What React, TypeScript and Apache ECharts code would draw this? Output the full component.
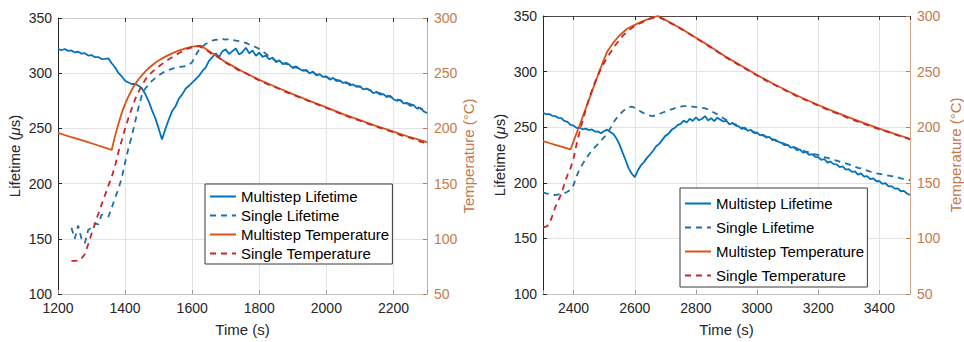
import React, { useEffect, useRef } from 'react';
import * as echarts from 'echarts';

const FONT = "'Liberation Sans', Arial, Helvetica, sans-serif";
const C_BLUE = '#0072BD';
const C_BLUE_D = '#1F6FA6';
const C_ORANGE = '#D95319';
const C_RED = '#C8252C';
const C_AXIS = '#262626';
const C_RIGHT = '#C47A4C';
const C_RIGHT_LINE = '#D8AA8C';
const C_GRID = '#E4E4E4';

const seriesNames = ['Multistep Lifetime', 'Single Lifetime', 'Multistep Temperature', 'Single Temperature'];
const xName = 'Time (s)';
const leftYName = '{n|Lifetime (}{i|μ}{n|s)}';
const rightYName = 'Temperature (°C)';

// ---------- Left panel ----------
const leftTimeRange = [1200, 2300];
const leftLifeStep = 10;
const leftMultiLifeStart = 1200;
const leftMultiLife = [
  322.0, 320.8, 321.9, 320.2, 320.6, 318.8, 319.6, 317.7, 318.1, 316.0,
  316.4, 314.5, 314.6, 312.8, 313.0, 313.5, 309.0, 305.4, 300.2, 297.2,
  293.2, 291.6, 290.2, 290.3, 288.7, 286.3, 281.2, 274.8, 266.6, 259.4,
  250.0, 240.0, 249.5, 257.8, 265.6, 269.8, 276.8, 280.6, 285.8, 288.6,
  291.5, 294.5, 297.5, 301.8, 305.0, 311.2, 314.5, 318.0, 314.6, 319.8,
  321.6, 317.4, 320.0, 322.4, 316.8, 319.2, 323.0, 318.0, 320.6, 315.8,
  318.6, 314.8, 316.0, 312.6, 314.2, 310.0, 311.6, 308.2, 309.4, 307.6,
  304.6, 306.2, 303.8, 302.2, 303.0, 299.8, 301.4, 298.0, 299.2, 296.6,
  297.2, 294.2, 295.8, 292.8, 293.4, 291.2, 292.0, 289.0, 289.8, 287.6,
  288.2, 285.4, 286.0, 284.6, 282.0, 283.2, 280.6, 281.0, 278.4, 279.6,
  276.4, 275.0, 275.8, 272.6, 273.0, 270.4, 271.2, 267.8, 268.6, 265.4,
  264.0,
];
const leftSingleLifeStart = 1240;
const leftSingleLife = [
  160, 150, 162, 150, 146, 158, 160, 164, 163, 172,
  171, 170, 178, 187, 195, 205, 219, 232, 243, 256,
  269, 280, 286, 289.5, 293, 295.5, 298, 300, 302, 303,
  304, 305, 305.5, 306, 306.5, 307.5, 310, 316, 321, 324,
  326.5, 328, 329.5, 330.5, 330, 331, 330.5, 331, 330, 329.5,
  329, 328, 327.5, 326, 325, 323.5, 322, 320, 317.5, 315,
  313, 311, 310.5, 309, 308.5, 307, 306, 305, 304.5, 303,
  302, 301, 300.5, 299, 298.5, 297.5, 296.5, 295.5, 295, 294,
  293, 292, 291, 290.5, 289.5, 288.5, 287.5, 286.5, 286, 284.5,
  284, 282.5, 282, 280.5, 280, 278.5, 277.5, 276.5, 275.5, 274,
  273, 272, 270.5, 269.5, 268, 267, 265.5,
];
const leftMultiTemp = [
  [1200, 196], [1240, 192], [1280, 188.5], [1320, 184.5], [1360, 180.5], [1370, 193], [1380, 204],
  [1390, 214], [1400, 222], [1410, 229], [1420, 235], [1430, 240], [1440, 244.5], [1450, 248],
  [1460, 251.5], [1470, 254.5], [1480, 257], [1490, 259.5], [1500, 261.5], [1520, 265], [1540, 268],
  [1560, 270.5], [1580, 272.5], [1600, 274], [1625, 275], [1650, 270], [1700, 260], [1750, 251.5],
  [1800, 244], [1850, 237.5], [1900, 231], [1950, 225], [2000, 219], [2050, 213], [2100, 207.5],
  [2150, 202], [2200, 197], [2250, 192], [2300, 187.5],
];
const leftSingleTemp = [
  [1240, 80], [1250, 80], [1265, 80.5], [1280, 86], [1290, 95], [1300, 104.5], [1310, 113.5],
  [1320, 122.5], [1330, 131], [1340, 139.5], [1350, 148], [1360, 156], [1370, 166], [1380, 178.5],
  [1390, 189], [1400, 200], [1410, 209.5], [1420, 218], [1430, 226.5], [1440, 233], [1450, 239],
  [1460, 244], [1470, 248], [1480, 251], [1500, 256], [1520, 260.5], [1540, 264.5], [1560, 268],
  [1580, 271.5], [1600, 273.5], [1620, 274.5], [1640, 271.5], [1660, 267], [1680, 264], [1700, 259.5],
  [1720, 256], [1740, 252.5], [1760, 250], [1780, 246.5], [1800, 243.5], [1825, 240], [1850, 237],
  [1875, 233.5], [1900, 230.5], [1925, 227.5], [1950, 224.5], [1975, 221.5], [2000, 218.5],
  [2025, 215.5], [2050, 212.5], [2075, 209.5], [2100, 207], [2125, 204], [2150, 201.5], [2175, 199],
  [2200, 196.5], [2225, 193.5], [2250, 191.5], [2275, 188.5], [2300, 186.5],
];

// ---------- Right panel ----------
const rightTimeRange = [2300, 3500];
const rightLifeStep = 10;
const rightLifeStart = 2300;
const rightMultiLife = [
  263.0, 261.6, 261.9, 260.2, 260.0, 258.4, 258.2, 255.6, 254.8, 252.0,
  251.4, 249.3, 249.5, 248.1, 248.7, 247.4, 248.0, 246.1, 246.0, 244.6,
  246.6, 247.8, 245.6, 243.9, 240.0, 234.5, 227.4, 220.5, 213.0, 208.4,
  205.0, 211.0, 215.6, 218.6, 222.4, 225.4, 228.8, 232.8, 235.0, 238.6,
  242.2, 244.0, 247.6, 249.2, 251.8, 253.0, 256.0, 254.2, 257.6, 255.6,
  258.8, 256.2, 257.6, 260.0, 256.0, 258.2, 255.4, 258.6, 256.8, 255.2,
  255.6, 252.6, 253.8, 251.4, 250.8, 248.4, 249.6, 246.8, 247.6, 245.0,
  245.2, 242.6, 243.4, 240.6, 241.2, 238.4, 238.8, 236.8, 236.0, 233.8,
  234.2, 231.6, 232.0, 229.4, 230.0, 227.2, 227.8, 225.2, 225.8, 223.4,
  223.0, 220.6, 221.4, 218.2, 219.0, 216.8, 216.6, 214.2, 214.8, 211.8,
  212.2, 209.8, 210.2, 207.4, 208.4, 205.6, 206.0, 203.2, 204.0, 201.4,
  201.4, 199.0, 199.6, 196.8, 197.0, 194.8, 195.0, 192.4, 192.8, 190.4,
  189.0,
];
const rightSingleLife = [
  191.5, 190.5, 190, 189.5, 189, 189.5, 190, 190.5, 192, 194,
  198, 206, 212.5, 217, 221.5, 225.5, 229, 232, 235, 238,
  241, 244, 249, 254, 258, 261, 264, 266.5, 268, 268.5,
  267.5, 266, 264, 262.5, 261, 260.5, 260, 261, 262, 263,
  264, 265, 266, 267, 268, 268.5, 269, 269, 268.5, 268.5,
  268, 268, 267.5, 267, 266, 264.5, 263, 261.5, 260, 258,
  256.5, 255, 253.5, 252.5, 251, 250, 248.5, 247.5, 246.5, 245.5,
  244.5, 243.5, 242.5, 241.5, 240.5, 239.5, 238, 237, 236, 235,
  234, 233, 232, 231, 230, 229, 228, 227.5, 226.5, 225.5,
  225, 224, 223, 222.5, 221.5, 220.5, 220, 219, 218, 217.5,
  216.5, 215.5, 214.5, 213.5, 213, 212, 211, 210, 209.5, 208.5,
  208, 207.5, 207, 206.5, 206, 205.5, 205, 204, 203.5, 203,
  202.5,
];
const rightMultiTemp = [
  [2300, 187.5], [2320, 185.8], [2340, 184.2], [2360, 182.5], [2390, 180], [2400, 187.5], [2420, 202],
  [2440, 217], [2460, 232], [2480, 247], [2495, 258], [2510, 268], [2530, 276], [2550, 282.5],
  [2575, 288.5], [2600, 292], [2625, 295.2], [2650, 298], [2676, 300], [2700, 296.5], [2750, 289],
  [2800, 280.5], [2850, 272], [2900, 263], [2950, 255], [3000, 247], [3050, 239.5], [3100, 232.5],
  [3150, 226], [3200, 220], [3250, 214.3], [3300, 208.8], [3350, 203.7], [3400, 198.7], [3450, 194],
  [3500, 189.6],
];
const rightSingleTemp = [
  [2300, 110], [2310, 110.5], [2320, 112.5], [2330, 120], [2340, 128], [2350, 134], [2360, 140],
  [2370, 149], [2380, 157], [2390, 163], [2400, 172], [2410, 185], [2420, 196], [2430, 206],
  [2440, 216], [2450, 225], [2460, 233], [2470, 240.5], [2480, 247], [2490, 253], [2500, 258],
  [2520, 267], [2540, 275], [2560, 282], [2580, 287], [2600, 291], [2625, 294.5], [2650, 297.5],
  [2676, 299.5], [2700, 296], [2725, 292.5], [2750, 288.5], [2775, 284.5], [2800, 280], [2825, 276],
  [2850, 271.5], [2875, 267], [2900, 262.5], [2925, 258.5], [2950, 254.5], [2975, 250.5], [3000, 246.5],
  [3025, 242.5], [3050, 239], [3075, 235.5], [3100, 232], [3125, 228.5], [3150, 225.5], [3175, 222.5],
  [3200, 219.5], [3225, 216.5], [3250, 213.5], [3275, 211], [3300, 208], [3325, 205.5], [3350, 203],
  [3375, 200.5], [3400, 198], [3425, 196], [3450, 193.5], [3475, 191.5], [3500, 189],
];

const lifeAxisRange = [100, 350];
const tempAxisRange = [50, 300];
const yInterval = 50;

function seq(start: number, step: number, values: number[]) {
  return values.map((v, i) => [start + i * step, v]);
}

function buildPanel(idx: number, range: number[], grid: any, legendPos: any, data: any, topDark: boolean) {
  const xa = [
    {
      type: 'value', gridIndex: idx, position: 'bottom', min: range[0], max: range[1],
      name: xName, nameLocation: 'middle', nameGap: 28,
      nameTextStyle: { fontFamily: FONT, fontSize: 15, color: C_AXIS },
      axisLine: { show: true, onZero: false, lineStyle: { color: '#C4C4C4', width: 1 } },
      axisTick: { show: true, inside: true, length: 4, lineStyle: { color: '#9A9A9A' } },
      axisLabel: {
        fontFamily: FONT, fontSize: 14, color: C_AXIS, margin: 7,
        formatter: (v: number) => (v % 200 === 0 ? String(v) : ''),
      },
      splitLine: { show: true, lineStyle: { color: C_GRID, width: 1 } },
    },
    {
      type: 'value', gridIndex: idx, position: 'top', min: range[0], max: range[1],
      axisLine: { show: true, onZero: false, lineStyle: { color: topDark ? '#4A4A4A' : '#CFCFCF', width: 1 } },
      axisTick: { show: true, inside: true, length: 4, lineStyle: { color: '#333' } },
      axisLabel: { show: false },
      splitLine: { show: false },
    },
  ];
  const ya = [
    {
      type: 'value', gridIndex: idx, position: 'left', min: lifeAxisRange[0], max: lifeAxisRange[1], interval: yInterval,
      name: leftYName, nameLocation: 'middle', nameRotate: 90, nameGap: 36,
      nameTextStyle: {
        rich: {
          n: { fontFamily: FONT, fontSize: 15, color: C_AXIS },
          i: { fontFamily: FONT, fontSize: 15, color: C_AXIS, fontStyle: 'italic' },
        },
      },
      axisLine: { show: true, onZero: false, lineStyle: { color: C_AXIS, width: 1 } },
      axisTick: { show: true, inside: true, length: 4, lineStyle: { color: C_AXIS } },
      axisLabel: { fontFamily: FONT, fontSize: 14, color: C_AXIS, margin: 6 },
      splitLine: { show: true, lineStyle: { color: C_GRID, width: 1 } },
    },
    {
      type: 'value', gridIndex: idx, position: 'right', min: tempAxisRange[0], max: tempAxisRange[1], interval: yInterval,
      name: rightYName, nameLocation: 'middle', nameRotate: 90, nameGap: idx === 0 ? 32 : 38,
      nameTextStyle: { fontFamily: FONT, fontSize: 15, color: C_RIGHT },
      axisLine: { show: true, onZero: false, lineStyle: { color: C_RIGHT_LINE, width: 1 } },
      axisTick: { show: true, inside: true, length: 4, lineStyle: { color: C_RIGHT } },
      axisLabel: { fontFamily: FONT, fontSize: 14, color: C_RIGHT, margin: 7 },
      splitLine: { show: false },
    },
  ];
  const xi = idx * 2;
  const yi = idx * 2;
  const series = [
    { name: seriesNames[0], type: 'line', xAxisIndex: xi, yAxisIndex: yi, data: data.ml, color: C_BLUE,
      showSymbol: false, symbol: 'none', lineStyle: { color: C_BLUE, width: 1.8 } },
    { name: seriesNames[1], type: 'line', xAxisIndex: xi, yAxisIndex: yi, data: data.sl, color: C_BLUE_D,
      showSymbol: false, symbol: 'none', lineStyle: { color: C_BLUE_D, width: 1.8, type: [6, 5] } },
    { name: seriesNames[2], type: 'line', xAxisIndex: xi, yAxisIndex: yi + 1, data: data.mt, color: C_ORANGE,
      showSymbol: false, symbol: 'none', lineStyle: { color: C_ORANGE, width: 1.8 } },
    { name: seriesNames[3], type: 'line', xAxisIndex: xi, yAxisIndex: yi + 1, data: data.st, color: C_RED,
      showSymbol: false, symbol: 'none', lineStyle: { color: C_RED, width: 1.8, type: [6, 5] } },
  ];
  const legend = {
    orient: 'vertical', ...legendPos,
    itemWidth: 26, itemHeight: 14,
    itemStyle: { opacity: 0 },
    borderColor: '#3A3A3A', borderWidth: 1, backgroundColor: '#ffffff',
    textStyle: { fontFamily: FONT, fontSize: 15, color: '#000', lineHeight: 17 },
    data: seriesNames,
    selectedMode: false,
  };
  return { xa, ya, series, legend, grid };
}

export default function App() {
  const ref = useRef<HTMLDivElement>(null);
  useEffect(() => {
    document.body.style.margin = '0';
    if (!ref.current) return;
    const chart = echarts.init(ref.current, undefined, { renderer: 'svg' });
    const p0 = buildPanel(0, leftTimeRange, { left: 58, top: 18, width: 369, height: 280 },
      { left: 205, top: 184, padding: [4, 3, 2, 4], itemGap: 2 },
      {
        ml: seq(leftMultiLifeStart, leftLifeStep, leftMultiLife),
        sl: seq(leftSingleLifeStart, leftLifeStep, leftSingleLife),
        mt: leftMultiTemp, st: leftSingleTemp,
      }, false);
    const p1 = buildPanel(1, rightTimeRange, { left: 543, top: 16, width: 368, height: 280 },
      { left: 680, top: 188, padding: [7, 3, 3, 4], itemGap: 7 },
      {
        ml: seq(rightLifeStart, rightLifeStep, rightMultiLife),
        sl: seq(rightLifeStart, rightLifeStep, rightSingleLife),
        mt: rightMultiTemp, st: rightSingleTemp,
      }, true);
    chart.setOption({
      animation: false,
      backgroundColor: '#ffffff',
      textStyle: { fontFamily: FONT },
      grid: [
        { ...p0.grid, containLabel: false },
        { ...p1.grid, containLabel: false },
      ],
      xAxis: [...p0.xa, ...p1.xa],
      yAxis: [...p0.ya, ...p1.ya],
      legend: [p0.legend, p1.legend],
      series: [...p0.series, ...p1.series],
    });
    return () => chart.dispose();
  }, []);
  return <div ref={ref} style={{ width: 964, height: 342 }} />;
}
